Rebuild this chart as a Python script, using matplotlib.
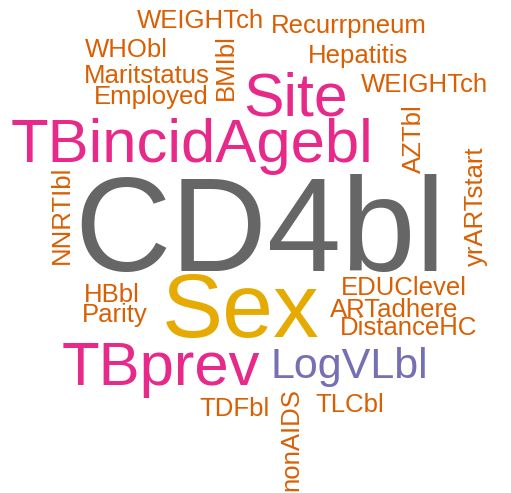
import matplotlib
matplotlib.use('Agg')
import matplotlib.pyplot as plt

# palabras y frecuencia (tamaño relativo en la nube)
words = ['CD4bl', 'Sex', 'TBincidAgebl', 'TBprev', 'Site', 'LogVLbl',
         'WEIGHTch', 'Recurrpneum', 'WHObl', 'Hepatitis', 'Maritstatus',
         'Employed', 'BMIbl', 'WEIGHTch', 'AZTbl', 'yrARTstart', 'NNRTIbl',
         'HBbl', 'Parity', 'EDUClevel', 'ARTadhere', 'DistanceHC',
         'TDFbl', 'TLCbl', 'nonAIDS']
freq = [130, 89, 60, 60, 59, 42,
        25, 25, 25, 25, 25,
        25, 25, 25, 25, 25, 25,
        25, 25, 25, 25, 25,
        25, 25, 25]

# colores Dark2 por nivel de frecuencia
def color_de(f):
    if f >= 100:
        return '#666666'
    if f >= 80:
        return '#E6AB02'
    if f >= 50:
        return '#E7298A'
    if f >= 40:
        return '#7570B3'
    return '#D95F02'

# layout: x izquierda, y linea base (pixeles), rotacion
layout = [(74, 271, 0), (162, 337, 0), (11, 162, 0), (62, 385, 0), (243, 115, 0), (270, 378, 0),
          (137, 28, 0), (271, 33, 0), (85, 57, 0), (308, 63, 0), (84, 83, 0),
          (94, 104, 0), (233, 100, 90), (361, 92, 0), (421, 173, 90), (483, 266, 90), (69, 264, 90),
          (84, 302, 0), (82, 322, 0), (341, 295, 0), (330, 317, 0), (340, 335, 0),
          (199, 416, 0), (315, 412, 0), (298, 491, 90)]

W, H = 511, 493
fig = plt.figure(figsize=(W / 100, H / 100), dpi=100)
ax = fig.add_axes([0, 0, 1, 1])
ax.set_xlim(0, W)
ax.set_ylim(H, 0)
ax.axis('off')

for w, f, (x, y, rot) in zip(words, freq, layout):
    ax.text(x, y, w, fontsize=f * 0.74, color=color_de(f), family='Liberation Sans',
            ha='left', va='baseline', rotation=rot, rotation_mode='anchor')

plt.savefig('out.png', dpi=100, facecolor='white')
